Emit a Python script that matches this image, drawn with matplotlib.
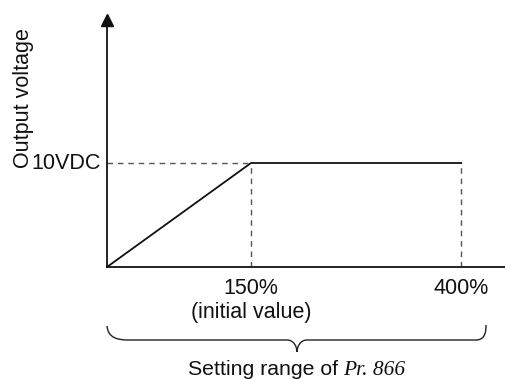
import matplotlib
matplotlib.use("Agg")
from matplotlib import pyplot as plt
from matplotlib.path import Path
from matplotlib.patches import PathPatch

# schematic data (x positions not to scale in the original figure)
x_points = [0, 150, 369]
y_points = [0, 10, 10]
tick_pos = [150, 369]
tick_labels = ["150%\n(initial value)", "400%"]
y_level = 10
y_label_text = "10VDC"

plt.rcParams['font.family'] = ['Liberation Sans', 'DejaVu Sans']

fig = plt.figure(figsize=(5.05, 3.79), dpi=100)
W, H = 505, 379
ax = fig.add_axes([107 / W, 1 - 267 / H, (W - 107) / W, (267 - 20) / H])
ax.set_xlim(0, (W - 107) / 0.96)
ax.set_ylim(0, (267 - 20) / 10.4)

for s in ['top', 'right']:
    ax.spines[s].set_visible(False)
for s in ['left', 'bottom']:
    ax.spines[s].set_linewidth(1.3)
    ax.spines[s].set_color('#111111')

# arrow head on the y-axis
ax.plot([0], [ax.get_ylim()[1]], marker='^', markersize=9, color='#111111',
        clip_on=False, zorder=5)

# output line
ax.plot(x_points, y_points, color='#111111', lw=1.3, clip_on=False)

# dashed guides
dash = dict(color='#555555', lw=1.0, linestyle=(0, (4, 3.5)))
ax.plot([0, x_points[1]], [y_level, y_level], **dash)
for xp in tick_pos:
    ax.plot([xp, xp], [0, y_level], **dash)

ax.set_xticks([])
ax.set_yticks([])

fs = 15.5
for xp, lab in zip(tick_pos, tick_labels):
    ax.text(xp, -1.1, lab, ha='center', va='top', fontsize=fs,
            linespacing=1.15, color='#111111')
ax.text(-0.65 / 0.96 * 10, y_level, y_label_text, ha='right', va='center',
        fontsize=fs, color='#111111')

fig.text(23 / W, 1 - 98 / H, "Output voltage", rotation=90, ha='center',
         va='center', fontsize=fs, color='#111111')

# brace under the axis (pixel coordinates converted to figure fraction)
def fp(x, y):
    return (x / W, 1 - y / H)

verts = [fp(107, 326), fp(108, 338), fp(118, 340), fp(128, 340),
         fp(287, 340), fp(294, 340), fp(297, 347), fp(297, 352),
         fp(297, 347), fp(300, 340), fp(307, 340),
         fp(476, 340), fp(486, 340), fp(486, 330), fp(486, 325)]
codes = [Path.MOVETO, Path.CURVE4, Path.CURVE4, Path.CURVE4,
         Path.LINETO, Path.CURVE4, Path.CURVE4, Path.CURVE4,
         Path.CURVE4, Path.CURVE4, Path.CURVE4,
         Path.LINETO, Path.CURVE4, Path.CURVE4, Path.CURVE4]
brace = PathPatch(Path(verts, codes), transform=fig.transFigure,
                  facecolor='none', edgecolor='#222222', lw=1.0)
fig.patches.append(brace)

fig.text(338 / W, 1 - 375 / H, "Setting range of", ha='right', va='baseline',
         fontsize=15.3, color='#111111')
fig.text(343 / W, 1 - 375 / H, "Pr. 866", ha='left', va='baseline',
         fontsize=15.5, style='italic', family='Liberation Serif',
         color='#111111')

plt.savefig('out.png', dpi=100)
